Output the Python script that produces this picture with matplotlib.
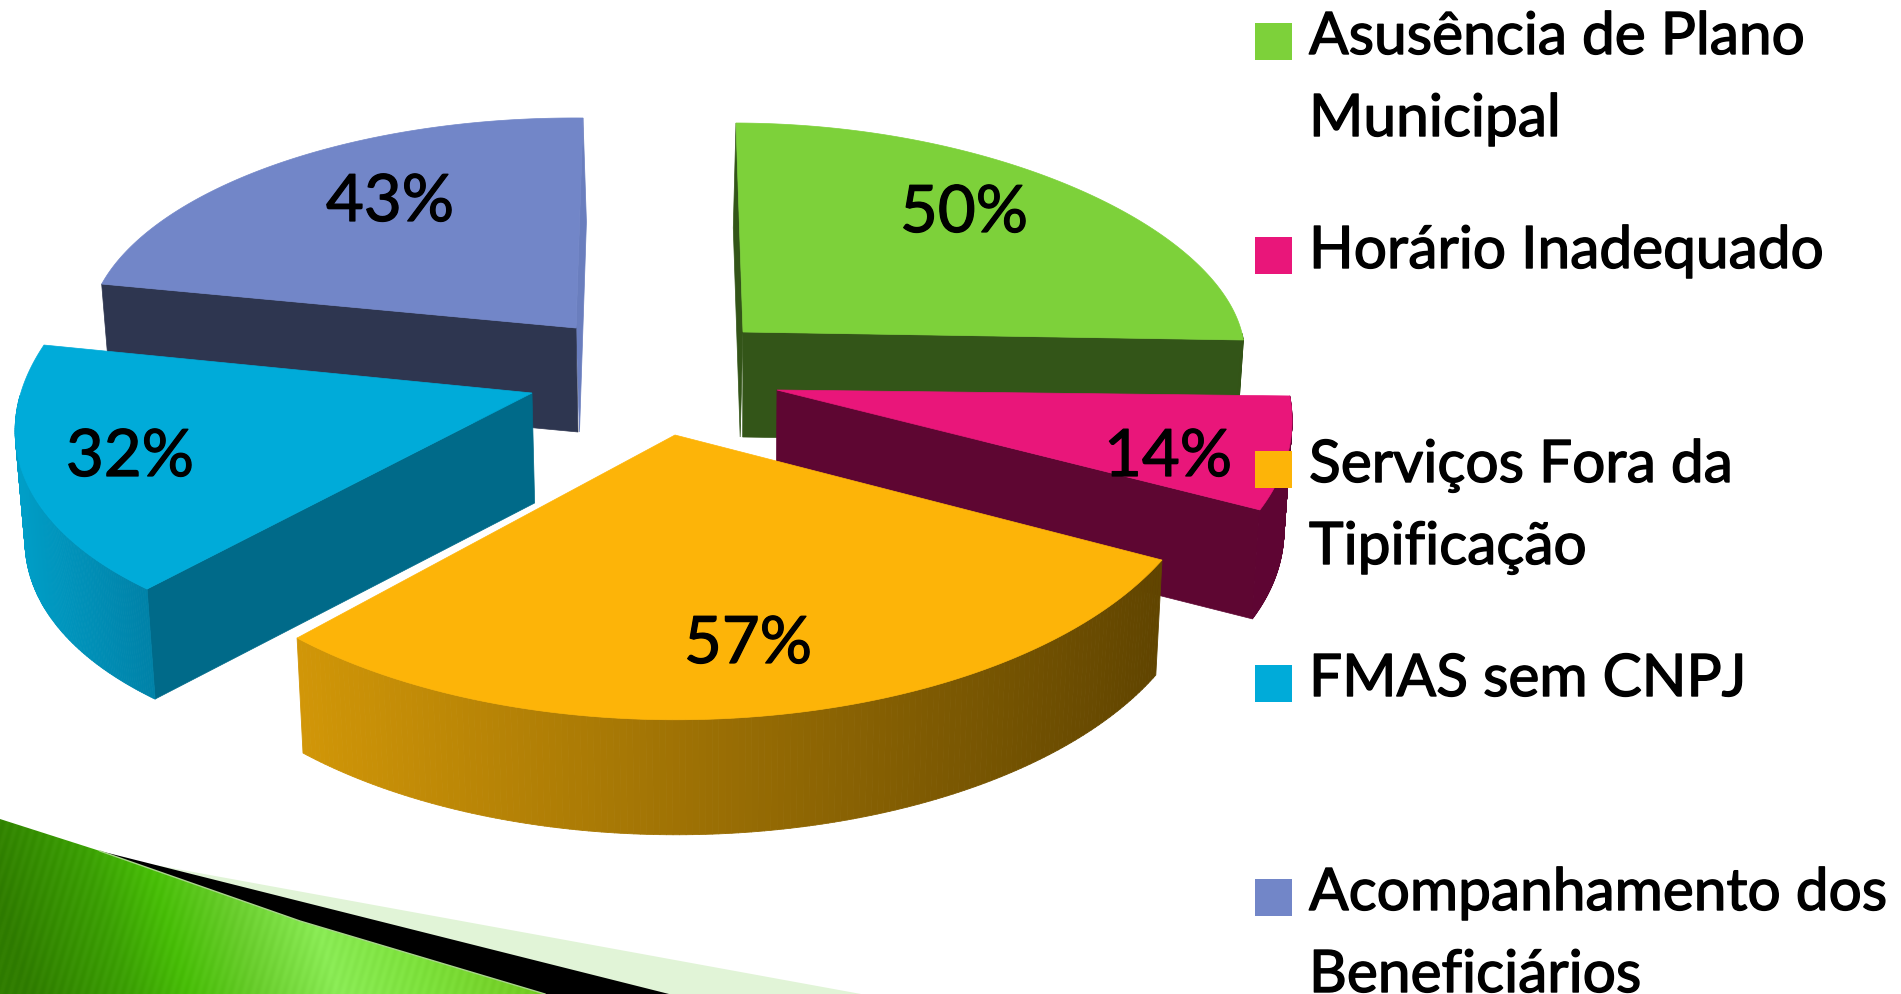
# -*- coding: utf-8 -*-
import numpy as np
import matplotlib
matplotlib.use('Agg')
import matplotlib.pyplot as plt
import matplotlib.patheffects as pe
from matplotlib.patches import Polygon, Rectangle
from matplotlib.collections import PolyCollection

plt.rcParams['font.family'] = ['Lato', 'DejaVu Sans']

# chart data
categories = ['Asusência de Plano\nMunicipal', 'Horário Inadequado', 'Serviços Fora da\nTipificação',
              'FMAS sem CNPJ', 'Acompanhamento dos\nBeneficiários']
percent = [50, 14, 57, 32, 43]

# colours per slice
top_color = ['#7DD13A', '#E9167A', '#FDB408', '#00ABD9', '#7286C8']
side_color = ['#335518', '#5E0632', '#664800', '#006A89', '#2E3650']
wall_left = [(0.20, 0.33, 0.09), (0.37, 0.02, 0.20), (0.82, 0.59, 0.03), (0.0, 0.62, 0.78), (0.18, 0.21, 0.31)]
wall_right = [(0.20, 0.33, 0.09), (0.37, 0.02, 0.20), (0.38, 0.27, 0.0), (0.0, 0.51, 0.66), (0.18, 0.21, 0.31)]

# how each exploded slice lands on the slide (px), perspective differs per slice
cx = [743, 777, 675, 532, 576]
cy = [333, 391, 436, 394, 329]
xu = [499, 511, 553.4, 508.5, 487.4]
xv = [7, 64.5, -7.9, -58.2, -7]
yu = [1.3, -2.5, -1.4, -2.3, 3.9]
yv = [209, 264, 273, 262.8, 210]
narrow = [0.09, 0.0, 0.0, 0.0, 0.03]
bulge = [0.0, 0.0, 0.045, 0.012, 0.0]
depth = [105, 109, 115, 110, 104]
show_start_wall = [False, False, False, True, True]
show_end_wall = [True, True, False, False, False]
draw_order = [4, 0, 3, 1, 2]

label_x = [964, 1168, 748, 130, 390]
label_y = [233, 477, 664, 477, 222]

legend_y = [24, 238, 452, 666, 880]
legend_x = 1255
legend_size = 37
text_x = 1309
line_gap = 82

W, H = 1901, 995
fig = plt.figure(figsize=(W / 100, H / 100), dpi=100)
ax = fig.add_axes([0, 0, 1, 1])
ax.set_xlim(0, W)
ax.set_ylim(H, 0)
ax.axis('off')

# slide decoration bottom left
pale = Polygon([(155, 866), (861, 995), (300, 995)], closed=True, fc='#E1F4D7', ec='none', zorder=1)
ax.add_patch(pale)
black = Polygon([(100, 852), (669, 995), (545, 995), (300, 935), (100, 860)], closed=True, fc='black', ec='none', zorder=2)
ax.add_patch(black)
stop_s = [0, 100, 160, 230, 310, 400, 545]
stop_r = [48, 60, 72, 105, 138, 125, 110]
stop_g = [125, 160, 190, 205, 235, 225, 195]
stop_b = [0, 5, 8, 45, 85, 60, 25]
gx, gy = np.meshgrid(np.arange(0, 546), np.arange(820, 996))
s = gx - 0.3 * (gy - 900)
stripes = 3 * np.sin((gx + 0.3 * gy) * 2 * np.pi / 9)
grad = np.stack([np.interp(s, stop_s, stop_r) + stripes, np.interp(s, stop_s, stop_g) + stripes,
                 np.interp(s, stop_s, stop_b) + stripes], axis=2)
grad = np.clip(grad, 0, 255) / 255
im = ax.imshow(grad, extent=[0, 545, 995, 820], aspect='auto', zorder=3)
edge_x = [0, 100, 200, 300, 545]
edge_y = [820, 852, 887, 922, 995]
green_shape = Polygon(list(zip(edge_x, edge_y)) + [(0, 995)], closed=True, transform=ax.transData, fc='none', ec='none')
ax.add_patch(green_shape)
im.set_clip_path(green_shape)
ax.plot(edge_x[1:], edge_y[1:], color='#A8D58A', lw=1, zorder=4)
ax.set_xlim(0, W)
ax.set_ylim(H, 0)

# slice angles, clockwise from 12 o'clock
edges = np.concatenate([[0], np.cumsum(percent)]) / np.sum(percent) * 2 * np.pi


def project(i, theta, k=1.0):
    u = k * np.sin(theta)
    v = -k * np.cos(theta)
    return cx[i] + xu[i] * u * (1 + narrow[i] * v) + xv[i] * v, cy[i] + yu[i] * u + yv[i] * v


def drop(x, y, i):
    # lower edge of a wall, verticals converge a little
    return x - 0.014 * (x - 720), y + depth[i]


def radial_wall(i, theta, z, color=None, shift=0):
    x0, y0 = project(i, theta)
    bx0, by0 = drop(x0, y0, i)
    bx1, by1 = drop(cx[i], cy[i], i)
    if color is None:
        color = side_color[i]
    ax.add_patch(Polygon([(cx[i], cy[i]), (x0, y0), (bx0 + shift, by0), (bx1 + shift, by1)], closed=True,
                         fc=color, ec=color, lw=0.5, zorder=z))


for z, i in enumerate(draw_order):
    base = 10 + z * 5
    t0, t1 = edges[i], edges[i + 1]
    t = np.linspace(t0, t1, 160)
    k = 1 + bulge[i] * np.sin(np.pi * (t - t0) / (t1 - t0))
    x, y = project(i, t, k)

    # thin slivers of the inner walls along the 12 o'clock cut
    if i == 0:
        radial_wall(i, t0, base, shift=-2.5)
    if i == 4:
        radial_wall(i, t1, base, color='#6A7EBE', shift=1.5)

    if show_start_wall[i]:
        radial_wall(i, t0, base + 1)
    if show_end_wall[i]:
        radial_wall(i, t1, base + 1)

    # outer wall, only the part that faces the viewer
    front = np.where(-np.cos(t) >= 0)[0]
    if len(front) > 1:
        bx, by = drop(x, y, i)
        strips = []
        colors = []
        for a, b in zip(front[:-1], front[1:]):
            strips.append([(x[a], y[a]), (x[b], y[b]), (bx[b], by[b]), (bx[a], by[a])])
            f = np.clip((x[a] - 300) / 860.0, 0, 1) if i == 2 else (x[a] - x.min()) / (x.max() - x.min())
            colors.append(tuple((1 - f) * np.array(wall_left[i]) + f * np.array(wall_right[i])))
        ax.add_collection(PolyCollection(strips, facecolors=colors, edgecolors=colors, linewidths=0.6, zorder=base + 2))

    top = np.column_stack([np.concatenate([[cx[i]], x]), np.concatenate([[cy[i]], y])])
    ax.add_patch(Polygon(top, closed=True, fc=top_color[i], ec=top_color[i], lw=0.5, zorder=base + 3))

# percent labels
for i in range(len(percent)):
    ax.text(label_x[i], label_y[i], str(percent[i]) + '%', fontsize=47, color='black', ha='center', va='baseline', zorder=50,
            path_effects=[pe.withStroke(linewidth=0.9, foreground='black')])

# legend
for i in range(len(categories)):
    ax.add_patch(Rectangle((legend_x, legend_y[i]), legend_size, legend_size, fc=top_color[i], ec='none', zorder=60))
    for n, line in enumerate(categories[i].split('\n')):
        ax.text(text_x, legend_y[i] + 31 + n * line_gap, line, fontsize=42.2, color='black',
                ha='left', va='baseline', zorder=60,
                path_effects=[pe.withStroke(linewidth=1.0, foreground='black')])

fig.savefig('out.png', dpi=100, facecolor='white')
